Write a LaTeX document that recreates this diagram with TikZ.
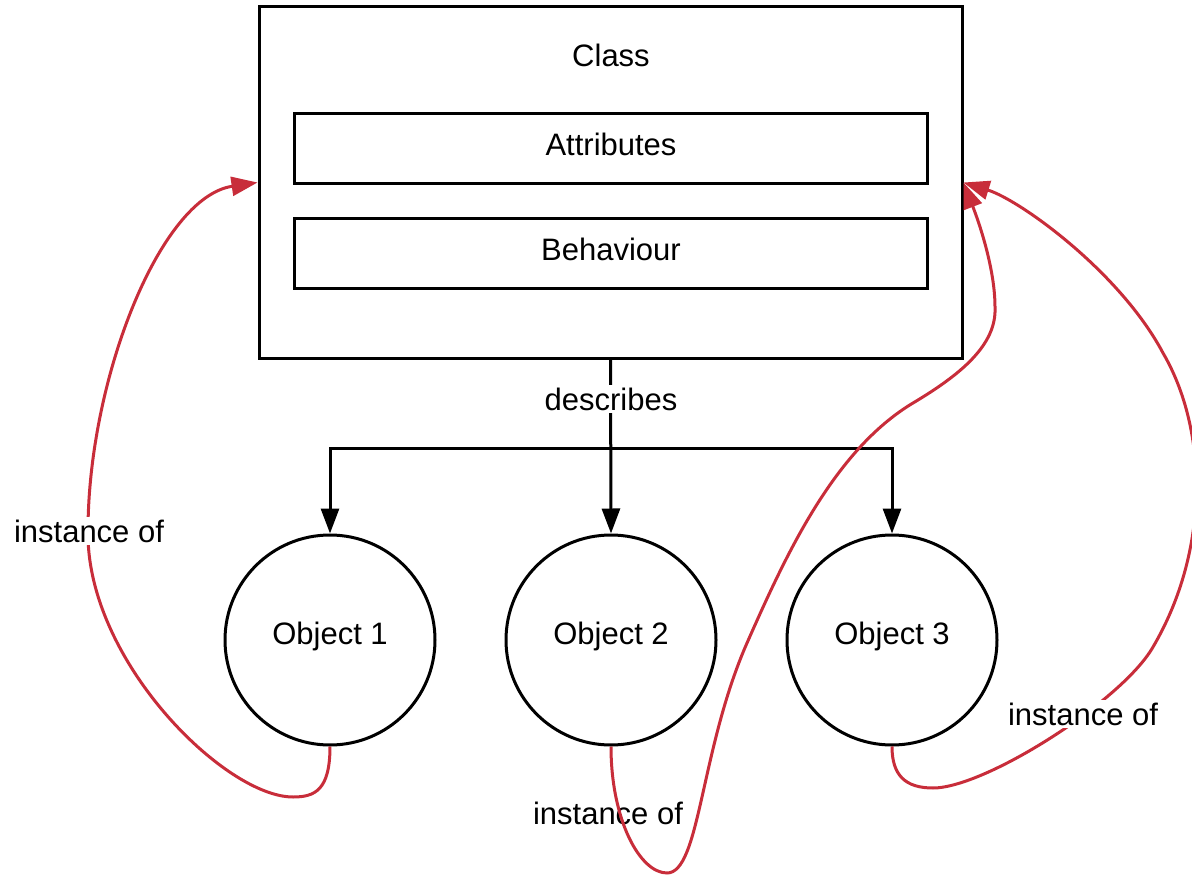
\documentclass[tikz,border=0pt]{standalone}
\usepackage{fontspec}
\setmainfont{Liberation Sans}
\usetikzlibrary{arrows.meta}
\definecolor{redc}{RGB}{200,45,58}
\tikzset{
  boxst/.style={draw=black, line width=3pt, inner sep=0pt},
  objst/.style={draw=black, line width=3pt, circle, minimum size=210pt, inner sep=0pt},
  txt/.style={font=\fontsize{31}{36}\selectfont, inner sep=2pt},
  blackarr/.style={draw=black, line width=3pt, -{Triangle[length=25pt,width=18pt]}},
  redarr/.style={draw=redc, line width=3pt, -{Triangle[length=26pt,width=19pt]}},
  lbl/.style={font=\fontsize{31}{36}\selectfont, fill=white, inner sep=3pt}
}
\begin{document}
\begin{tikzpicture}[x=1pt,y=-1pt]
\useasboundingbox (0,0) rectangle (1192,875);
% class box
\node[boxst, minimum width=703pt, minimum height=351pt] (cls) at (610.5,182.5) {};
\node[txt] (clsname) at (611,55) {Class};
\node[boxst, minimum width=633pt, minimum height=70pt] (attr) at (610.5,148) {};
\node[txt] (attrtxt) at (611,144) {Attributes};
\node[boxst, minimum width=633pt, minimum height=70pt] (beh) at (610.5,253) {};
\node[txt] (behtxt) at (611,249) {Behaviour};
% objects
\node[objst] (o1) at (330,640) {};
\node[objst] (o2) at (611,640) {};
\node[objst] (o3) at (892,640) {};
\node[txt] (o1t) at (330,636) {Object 1};
\node[txt] (o2t) at (611,636) {Object 2};
\node[txt] (o3t) at (892,636) {Object 3};
% describes connectors
\coordinate (jn) at (611,448);
\draw[blackarr] (cls.south) -- (o2.north);
\draw[blackarr] (jn) -| (o1.north);
\draw[blackarr] (jn) -| (o3.north);
\node[lbl] (desc) at (611,399) {describes};
% bottom label (line passes over it)
\node[txt] (lab2) at (608,813) {instance of};
% red curves
\draw[redarr] (o1.south) .. controls (330,790) and (315,797) .. (293,797)
   .. controls (225,797) and (86,660) .. (88,531)
   .. controls (88,380) and (160,197) .. (cls.west);
\draw[redarr] (o2.south) .. controls (611,820) and (640,873) .. (667,873)
   .. controls (700,873) and (700,750) .. (747,643)
   .. controls (785,557) and (833,451) .. (913,403)
   .. controls (960,375) and (997,345) .. (995,307)
   .. controls (995,270) and (980,225) .. (cls.east);
\draw[redarr] (o3.south) .. controls (892,775) and (905,788) .. (933,788)
   .. controls (985,788) and (1122,701) .. (1153,647)
   .. controls (1210,550) and (1208,430) .. (1163,353)
   .. controls (1120,272) and (1020,200) .. (cls.east);
\node[lbl] (lab1) at (89,531) {instance of};
\node[lbl] (lab3) at (1083,714) {instance of};
\end{tikzpicture}
\end{document}
